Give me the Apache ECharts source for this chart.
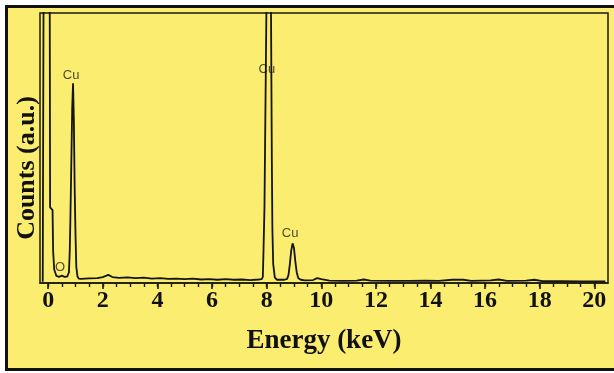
<!DOCTYPE html>
<html>
<head>
<meta charset="utf-8">
<script src="https://cdn.jsdelivr.net/npm/echarts@6/dist/echarts.min.js"></script>
<style>
  html, body { margin: 0; padding: 0; background: #fff; }
  #chart { width: 614px; height: 373px; }
</style>
</head>
<body>
<div id="chart"></div>
<script>
// EDS spectrum (counts in arbitrary units, 0-100 shown)
var energyKeV = [
  -0.2, -0.17, -0.16, 0.05, 0.07, 0.16, 0.18, 0.22, 0.3, 0.4, 0.5, 0.6, 0.7,
  0.76, 0.79, 0.81, 0.84, 0.88, 0.91, 0.94, 0.97, 1.0, 1.03, 1.07, 1.12,
  1.2, 1.5, 1.8, 2.0, 2.2, 2.35, 2.6, 2.9, 3.2, 3.5, 3.8, 4.1, 4.4, 4.7,
  5.0, 5.3, 5.6, 5.9, 6.2, 6.5, 6.8, 7.1, 7.4, 7.7,
  7.82, 7.86, 7.88, 7.92, 7.95, 7.99, 8.03, 8.1, 8.16, 8.19, 8.21, 8.24, 8.3, 8.38,
  8.5, 8.65, 8.75, 8.8, 8.85, 8.9, 8.95, 9.0, 9.05, 9.1, 9.16, 9.25,
  9.4, 9.7, 9.85, 10.0, 10.3, 10.8, 11.3, 11.55, 11.8, 12.5, 13.2, 13.8,
  14.3, 14.8, 15.2, 15.5, 16.2, 16.5, 16.8, 17.5, 17.8, 18.1, 18.8, 19.5, 20.4
];
var counts = [
  0.5, 1, 140, 140, 28, 27, 12, 5, 2.6, 2.3, 2.7, 2.3, 2.4,
  4, 12, 22, 40, 65, 74, 60, 35, 18, 6, 2.5, 1.6,
  1.5, 1.7, 1.8, 2.2, 3.0, 2.2, 1.9, 2.1, 1.8, 2.0, 1.6, 1.8, 1.5, 1.6,
  1.4, 1.6, 1.3, 1.4, 1.2, 1.4, 1.2, 1.3, 1.1, 1.3,
  1.4, 2.3, 10, 28, 59, 100, 140, 140, 100, 45, 20, 7, 2, 1.2,
  1.2, 1.2, 1.5, 3, 7, 12, 14.7, 13, 8, 4, 1.8, 1.2,
  1.0, 1.1, 1.8, 1.4, 0.9, 0.8, 0.9, 1.3, 0.9, 0.8, 0.8, 0.9,
  0.8, 1.2, 1.2, 0.8, 1.0, 1.3, 0.8, 0.9, 1.2, 0.7, 0.7, 0.6, 0.6
];

// peak annotations (anchor energy / height of the text)
var peakNames = ['O', 'Cu', 'Cu', 'Cu'];
var peakLabelKeV = [0.43, 0.84, 8.01, 8.86];
var peakLabelCounts = [5.9, 77, 79, 18.5];

var tickLabels = [0, 2, 4, 6, 8, 10, 12, 14, 16, 18, 20];
var minorStep = 0.5;

var spectrum = [];
for (var i = 0; i < energyKeV.length; i++) {
  spectrum.push([energyKeV[i], counts[i]]);
}
var peaks = [];
for (var i = 0; i < peakNames.length; i++) {
  peaks.push({ name: peakNames[i], value: [peakLabelKeV[i], peakLabelCounts[i]] });
}
var minorTicks = [];
for (var v = 0; v <= 20; v += minorStep) {
  minorTicks.push(v);
}

var chart = echarts.init(document.getElementById('chart'));

var option = {
  backgroundColor: '#ffffff',
  animation: false,
  graphic: [{
    type: 'rect',
    z: -10,
    shape: { x: 6.5, y: 6.5, width: 640, height: 363 },
    style: { fill: '#fbed70', stroke: '#111', lineWidth: 3 }
  }],
  grid: {
    left: 40,
    right: 6,
    top: 13,
    bottom: 90,
    show: true,
    borderColor: '#1a1a10',
    borderWidth: 1.5,
    backgroundColor: 'transparent'
  },
  xAxis: [{
    type: 'value',
    min: -0.3,
    max: 20.5,
    position: 'bottom',
    name: 'Energy (keV)',
    nameLocation: 'middle',
    nameGap: 45,
    nameTextStyle: {
      fontFamily: 'Liberation Serif',
      fontWeight: 'bold',
      fontSize: 27,
      color: '#111'
    },
    axisLine: { show: true, lineStyle: { color: '#1a1a10', width: 1.5 } },
    axisTick: {
      show: true,
      inside: false,
      length: 6,
      customValues: tickLabels,
      lineStyle: { color: '#1a1a10', width: 1.6 }
    },
    axisLabel: {
      show: true,
      customValues: tickLabels,
      margin: 6,
      fontFamily: 'Liberation Serif',
      fontWeight: 'bold',
      fontSize: 24,
      color: '#111'
    },
    splitLine: { show: false }
  }, {
    type: 'value',
    min: -0.3,
    max: 20.5,
    position: 'bottom',
    axisLine: { show: false },
    axisTick: {
      show: true,
      inside: false,
      length: 4,
      customValues: minorTicks,
      lineStyle: { color: '#1a1a10', width: 1.4 }
    },
    axisLabel: { show: false },
    splitLine: { show: false }
  }],
  yAxis: {
    type: 'value',
    min: 0,
    max: 100,
    name: 'Counts (a.u.)',
    nameLocation: 'middle',
    nameGap: 0,
    nameTextStyle: {
      fontFamily: 'Liberation Serif',
      fontWeight: 'bold',
      fontSize: 26,
      color: '#111',
      padding: [0, 40, 0, 0]
    },
    axisLine: { show: false },
    axisTick: { show: false },
    axisLabel: { show: false },
    splitLine: { show: false }
  },
  series: [{
    name: 'EDS',
    type: 'line',
    xAxisIndex: 0,
    data: spectrum,
    showSymbol: false,
    clip: true,
    lineStyle: { color: '#151510', width: 1.8 }
  }, {
    name: 'peaks',
    type: 'scatter',
    xAxisIndex: 0,
    data: peaks,
    symbolSize: 0,
    label: {
      show: true,
      position: 'inside',
      formatter: '{b}',
      fontFamily: 'Liberation Sans',
      fontSize: 13,
      color: '#222'
    }
  }]
};

chart.setOption(option);
</script>
</body>
</html>
